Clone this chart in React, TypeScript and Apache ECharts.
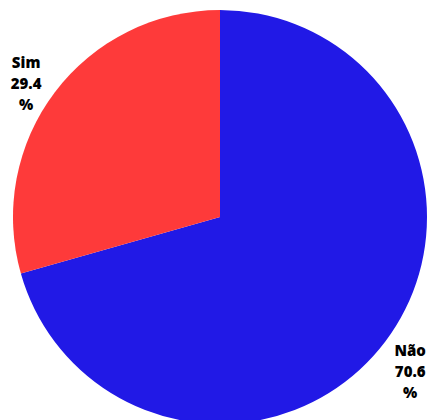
import React, { useEffect, useRef } from "react";
import * as echarts from "echarts";

const categories = ["Não", "Sim"];
const values = [70.6, 29.4];
const colors = ["#2119e6", "#fe3a3a"];

export default function App() {
  const ref = useRef<HTMLDivElement>(null);
  useEffect(() => {
    if (!ref.current) return;
    const chart = echarts.init(ref.current, undefined, { renderer: "svg" });
    chart.setOption({
      animation: false,
      backgroundColor: "#ffffff",
      series: [
        {
          type: "pie",
          center: [220, 217],
          radius: 207,
          startAngle: 90,
          clockwise: true,
          avoidLabelOverlap: false,
          data: categories.map((name, i) => ({
            name,
            value: values[i],
            itemStyle: { color: colors[i] },
          })),
          label: {
            show: true,
            position: "outside",
            formatter: (p: any) => `{t|${p.name}}\n{t|${p.value}}\n{t|%}`,
            rich: {
              t: {
                fontFamily: "Open Sans",
                fontWeight: 800,
                fontSize: 15,
                lineHeight: 21,
                align: "center",
                color: "#000000",
              },
            },
          },
          labelLine: { show: false, length: 13, length2: 0 },
          labelLayout: (params: any) =>
            params.dataIndex === 0 ? { dx: -6, dy: 21 } : { dx: 2, dy: -1 },
          emphasis: { disabled: true },
        },
      ],
    });
    return () => chart.dispose();
  }, []);
  return (
    <div
      ref={ref}
      style={{ position: "absolute", left: 0, top: 0, width: 429, height: 420 }}
    />
  );
}
